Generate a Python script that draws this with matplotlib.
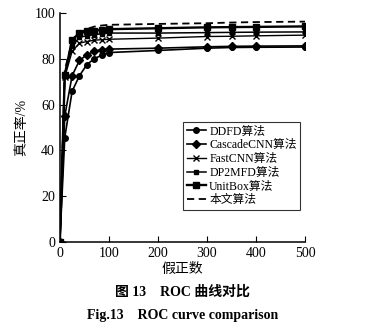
import matplotlib
matplotlib.use("Agg")
import matplotlib.pyplot as plt

plt.rcParams['font.family'] = ['Liberation Serif', 'Noto Sans CJK SC']

# 假正数
fp = [0, 10, 25, 40, 55, 70, 85, 100, 200, 300, 350, 400, 500]

# 真正率 (%)
ddfd = [0, 45.6, 65.8, 72.6, 77.4, 80.0, 81.5, 82.7, 83.6, 84.6, 84.9, 85.0, 85.1]
cascade = [0, 55.0, 72.6, 79.3, 81.7, 83.2, 84.0, 84.2, 84.6, 85.2, 85.4, 85.5, 85.6]
fastcnn = [0, 72.0, 83.2, 86.8, 87.5, 88.1, 88.3, 88.5, 89.0, 89.7, 89.8, 90.0, 90.3]
dp2mfd = [0, 73.0, 85.4, 89.4, 90.0, 90.5, 90.9, 91.2, 91.2, 91.4, 91.5, 91.6, 91.7]
unitbox = [0, 73.0, 88.3, 91.2, 91.9, 92.2, 92.6, 92.9, 93.3, 93.7, 93.8, 93.9, 94.1]
ours = [0, 75.0, 87.5, 91.0, 93.0, 94.0, 94.5, 94.8, 95.2, 95.5, 95.8, 96.0, 96.2]

fig = plt.figure(figsize=(3.65, 3.31), dpi=100)
ax = fig.add_axes([0.164, 0.269, 0.672, 0.692])

ax.plot(fp, ddfd, color='black', lw=1.2, marker='o', ms=4.0, label='DDFD算法')
ax.plot(fp, cascade, color='black', lw=1.2, marker='D', ms=3.6, label='CascadeCNN算法')
ax.plot(fp, fastcnn, color='black', lw=1.0, marker='x', ms=3.8, mew=1.0, label='FastCNN算法')
ax.plot(fp, dp2mfd, color='black', lw=1.1, marker='s', ms=3.4, label='DP2MFD算法')
ax.plot(fp, unitbox, color='black', lw=1.7, marker='s', ms=4.4, label='UnitBox算法')
ax.plot(fp, ours, color='black', lw=1.3, ls=(0, (4, 2.5)), label='本文算法')

ax.set_xlim(0, 500)
ax.set_ylim(0, 100)
ax.set_xticks([0, 100, 200, 300, 400, 500])
ax.set_yticks([0, 20, 40, 60, 80, 100])
ax.tick_params(direction='in', length=4, width=0.8, labelsize=10, colors='black')
ax.spines['top'].set_visible(False)
ax.spines['right'].set_visible(False)
for s in ['left', 'bottom']:
    ax.spines[s].set_linewidth(1.1)

ax.set_xlabel('假正数', fontsize=10, labelpad=2)
ax.set_ylabel('真正率/%', fontsize=10, labelpad=4)

leg = ax.legend(loc='lower right', bbox_to_anchor=(0.98, 0.14), fontsize=8.5,
                frameon=True, fancybox=False, edgecolor='black', handlelength=1.6,
                handletextpad=0.3, labelspacing=0.15, borderpad=0.3, borderaxespad=0)
leg.get_frame().set_linewidth(0.8)

fig.text(0.5, 0.118, '图 13    ROC 曲线对比', ha='center', va='center',
         fontsize=10, fontweight='bold')
fig.text(0.5, 0.048, 'Fig.13    ROC curve comparison', ha='center', va='center',
         fontsize=10, fontweight='bold')

fig.savefig('out.png', dpi=100)
